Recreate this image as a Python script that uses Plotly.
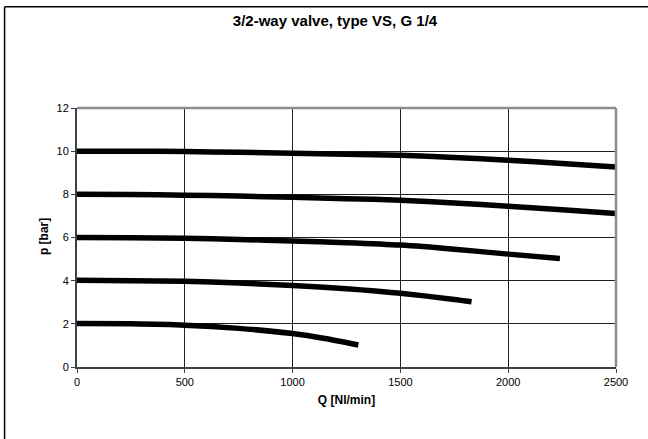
import plotly.graph_objects as go

# Data
q_10 = [0, 250, 500, 750, 1000, 1250, 1500, 1750, 2000, 2250, 2500]
p_10 = [10.0, 10.0, 9.98, 9.95, 9.9, 9.86, 9.81, 9.71, 9.58, 9.43, 9.27]

q_8 = [0, 250, 500, 750, 1000, 1250, 1500, 1750, 2000, 2250, 2500]
p_8 = [8.0, 7.99, 7.96, 7.92, 7.86, 7.8, 7.73, 7.6, 7.45, 7.29, 7.11]

q_6 = [0, 250, 500, 750, 1000, 1250, 1500, 1750, 2000, 2240]
p_6 = [6.0, 5.99, 5.96, 5.91, 5.84, 5.76, 5.65, 5.46, 5.23, 5.03]

q_4 = [0, 250, 500, 750, 1000, 1250, 1500, 1750, 1830]
p_4 = [4.02, 4.0, 3.97, 3.89, 3.78, 3.63, 3.42, 3.13, 3.02]

q_2 = [0, 250, 500, 750, 1000, 1150, 1305]
p_2 = [2.02, 2.0, 1.94, 1.79, 1.55, 1.32, 1.02]

x_ticks = [0, 500, 1000, 1500, 2000, 2500]
y_ticks = [0, 2, 4, 6, 8, 10, 12]

title_text = "3/2-way valve, type VS, G 1/4"
x_title = "Q [Nl/min]"
y_title = "p [bar]"

FONT = "Liberation Sans, Arial, sans-serif"

fig = go.Figure()
for qs, ps in [(q_10, p_10), (q_8, p_8), (q_6, p_6), (q_4, p_4), (q_2, p_2)]:
    fig.add_trace(go.Scatter(x=qs, y=ps, mode="lines",
                             line=dict(color="black", width=5.5, shape="spline", smoothing=0.6),
                             showlegend=False, hoverinfo="skip"))

W, H = 648, 439
L, R, T, B = 77, 31.5, 107.5, 72
pw = W - L - R
ph = H - T - B

fig.update_layout(
    width=W, height=H,
    margin=dict(l=L, r=R, t=T, b=B, autoexpand=False),
    paper_bgcolor="white", plot_bgcolor="white",
    font=dict(family=FONT, size=11, color="black"),
    title=dict(text="<b>" + title_text + "</b>", font=dict(size=15, family=FONT, color="black"),
               xref="container", yref="container", x=335 / W, y=1 - 21 / H,
               xanchor="center", yanchor="middle"),
    xaxis=dict(range=[0, 2500], tickvals=x_ticks, showgrid=True, gridcolor="#202020", gridwidth=1,
               zeroline=False, showline=True, linecolor="#404040", linewidth=2, mirror=False,
               ticks="outside", ticklen=4, tickcolor="#404040", tickwidth=1,
               tickfont=dict(size=11, family=FONT, color="black"),
               title=dict(text="<b>" + x_title + "</b>", font=dict(size=12, family=FONT), standoff=8)),
    yaxis=dict(range=[0, 12], tickvals=y_ticks, showgrid=True, gridcolor="#202020", gridwidth=1,
               zeroline=False, showline=True, linecolor="#404040", linewidth=2,
               ticks="outside", ticklen=4, tickcolor="#404040", tickwidth=1,
               tickfont=dict(size=11, family=FONT, color="black")),
    annotations=[dict(text="<b>" + y_title + "</b>", xref="paper", yref="paper",
                      x=(43.3 - L) / pw, y=(H - B - 236.5) / ph, showarrow=False,
                      textangle=-90, font=dict(size=12, family=FONT, color="black"),
                      xanchor="center", yanchor="middle")],
    shapes=[
        # grey frame on top and right of plot area
        dict(type="line", xref="paper", yref="paper", x0=0, x1=1, y0=1, y1=1,
             line=dict(color="#8c8c8c", width=2.5)),
        dict(type="line", xref="paper", yref="paper", x0=1, x1=1, y0=0, y1=1,
             line=dict(color="#8c8c8c", width=2.5)),
        # outer chart border (top and left)
        dict(type="line", xref="paper", yref="paper", x0=(4.5 - L) / pw, x1=(W + 5 - L) / pw,
             y0=(H - B - 6) / ph, y1=(H - B - 6) / ph, line=dict(color="black", width=1.5)),
        dict(type="line", xref="paper", yref="paper", x0=(4.5 - L) / pw, x1=(4.5 - L) / pw,
             y0=(H - B - 6) / ph, y1=(H - B - H - 5) / ph, line=dict(color="black", width=1.5)),
    ],
)

fig.write_html("out.html", config={"displayModeBar": False, "staticPlot": True},
               post_script="document.body.style.margin='0';document.body.style.overflow='hidden';")
